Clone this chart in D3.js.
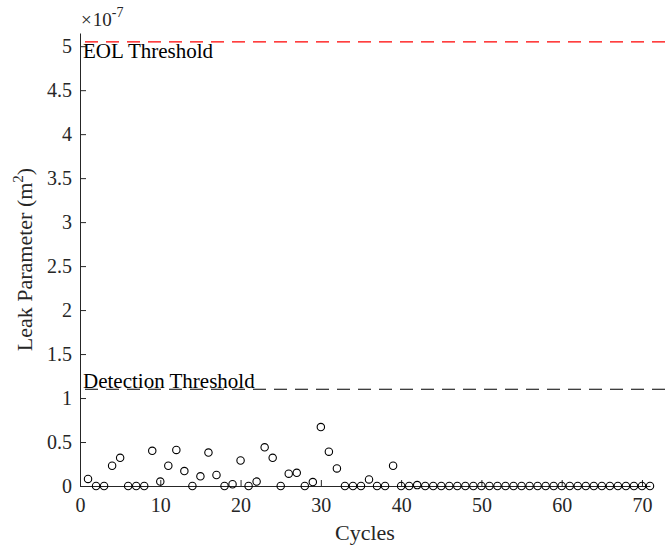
<!DOCTYPE html>
<html>
<head>
<meta charset="utf-8">
<script src="https://cdn.jsdelivr.net/npm/d3@7"></script>
<style>
  html, body { margin: 0; padding: 0; background: #fff; }
  svg, svg text { font-family: "Liberation Serif", "Times New Roman", serif !important; }
  svg { display: block; }
</style>
</head>
<body>
<svg id="chart" width="668" height="547"></svg>
<script>
// Data (leak parameter in units of 1e-7 m^2)
const cycles = d3.range(1, 72);
const leakValues = [
  0.08, 0, 0, 0.23, 0.32, 0, 0, 0, 0.40, 0.05,
  0.23, 0.41, 0.17, 0, 0.11, 0.38, 0.125, 0, 0.02, 0.29,
  0, 0.05, 0.44, 0.32, 0, 0.14, 0.15, 0, 0.045, 0.67,
  0.39, 0.20, 0, 0, 0, 0.075, 0, 0, 0.23, 0,
  0, 0.01, 0, 0, 0, 0, 0, 0, 0, 0,
  0, 0, 0, 0, 0, 0, 0, 0, 0, 0,
  0, 0, 0, 0, 0, 0, 0, 0, 0, 0,
  0
];
const xTicks = [0, 10, 20, 30, 40, 50, 60, 70];
const yTicks = [0, 0.5, 1, 1.5, 2, 2.5, 3, 3.5, 4, 4.5, 5];
const detectionThreshold = 1.1;
const eolThreshold = 5.05;
const thresholdLabels = ["Detection Threshold", "EOL Threshold"];

const svg = d3.select("#chart");
const margin = { left: 80, right: 18, top: 33, bottom: 61 };
const W = 668, H = 547;
const x = d3.scaleLinear().domain([0, 71]).range([margin.left, W - margin.right]);
const y = d3.scaleLinear().domain([0, 5.15]).range([H - margin.bottom, margin.top]);
const axisColor = "#262626";
const serif = '"Liberation Serif", "Times New Roman", serif';

// Threshold lines
svg.append("line")
  .attr("x1", x(0)).attr("x2", x(74))
  .attr("y1", y(eolThreshold)).attr("y2", y(eolThreshold))
  .attr("stroke", "#ff0000").attr("stroke-width", 1.2)
  .attr("stroke-dasharray", "13,8").attr("stroke-dashoffset", -5);

svg.append("text")
  .attr("x", x(0) + 3).attr("y", y(eolThreshold) + 16)
  .attr("font-size", 21).attr("fill", "#000")
  .text(thresholdLabels[1]);

svg.append("text")
  .attr("x", x(0) + 3).attr("y", y(detectionThreshold) - 1.5)
  .attr("font-size", 21).attr("fill", "#000")
  .text(thresholdLabels[0]);

svg.append("line")
  .attr("x1", x(0)).attr("x2", x(74))
  .attr("y1", y(detectionThreshold)).attr("y2", y(detectionThreshold))
  .attr("stroke", "#000").attr("stroke-width", 1.2)
  .attr("stroke-dasharray", "13,8").attr("stroke-dashoffset", -5);

// Axes
const xAxis = d3.axisBottom(x).tickValues(xTicks).tickSizeInner(-6).tickSizeOuter(0).tickPadding(12)
  .tickFormat(d3.format("d"));
const gx = svg.append("g").attr("transform", `translate(0,${y(0)})`).call(xAxis);
const yAxis = d3.axisLeft(y).tickValues(yTicks).tickSizeInner(-6).tickSizeOuter(0).tickPadding(8)
  .tickFormat(d => d3.format("")(d));
const gy = svg.append("g").attr("transform", `translate(${x(0)},0)`).call(yAxis);

[gx, gy].forEach(g => {
  g.attr("font-family", null).attr("font-size", null).style("font-family", serif);
  g.select(".domain").attr("stroke", axisColor).attr("stroke-width", 1);
  g.selectAll(".tick line").attr("stroke", axisColor).attr("stroke-width", 1);
  g.selectAll(".tick text").attr("fill", axisColor)
    .attr("font-size", 20).style("font-family", serif);
});

// Points
svg.append("g").selectAll("circle")
  .data(cycles.map((c, i) => ({ c, v: leakValues[i] })))
  .join("circle")
  .attr("cx", d => x(d.c)).attr("cy", d => y(d.v))
  .attr("r", 3.7)
  .attr("fill", "none").attr("stroke", "#000").attr("stroke-width", 1.1);

// Exponent label
const ex = svg.append("text").attr("x", x(0) + 1).attr("y", 26)
  .attr("font-size", 19).attr("fill", axisColor);
ex.append("tspan").text("\u00d7");
ex.append("tspan").attr("dx", 1).text("10");
ex.append("tspan").attr("dy", -9).attr("font-size", 14).text("-7");

// Axis labels
svg.append("text")
  .attr("x", (x(0) + x(71)) / 2).attr("y", 540)
  .attr("text-anchor", "middle").attr("font-size", 22).attr("fill", axisColor)
  .text("Cycles");

const yl = svg.append("text")
  .attr("transform", `translate(32,${(y(0) + y(5.15)) / 2}) rotate(-90)`)
  .attr("text-anchor", "middle").attr("font-size", 22).attr("fill", axisColor);
yl.append("tspan").text("Leak Parameter (m");
yl.append("tspan").attr("dy", -9).attr("font-size", 15).text("2");
yl.append("tspan").attr("dy", 9).text(")");

svg.selectAll("text").style("font-family", serif);
</script>
</body>
</html>
